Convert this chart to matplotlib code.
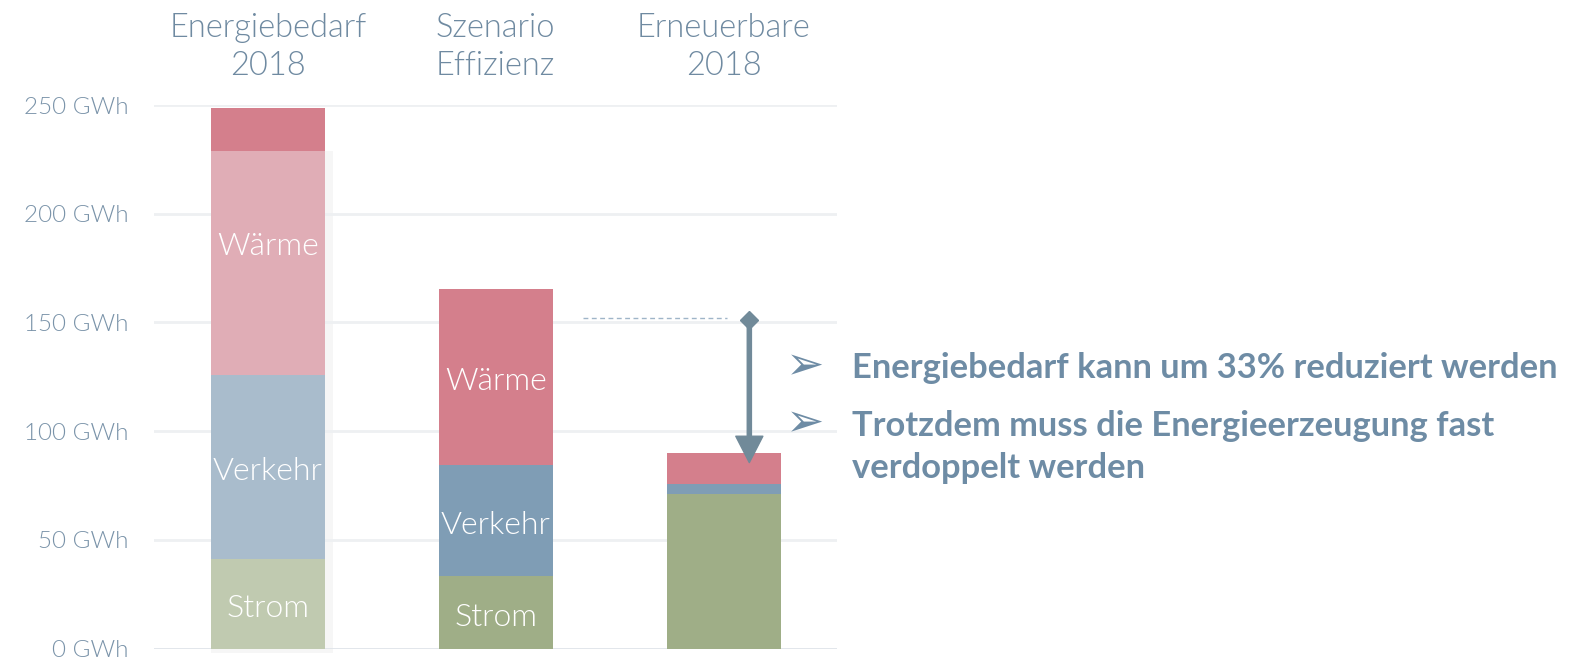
import matplotlib
matplotlib.use("Agg")
import matplotlib.pyplot as plt
from matplotlib.patches import Rectangle
import numpy as np

categories = ["Energiebedarf\n2018", "Szenario\nEffizienz", "Erneuerbare\n2018"]
strom = [41, 33.5, 71]
verkehr = [85, 51, 4.5]
waerme = [103, 81, 14.3]
waerme_top = [19.5, 0, 0]
segment_labels = ["Strom", "Verkehr", "Wärme"]
yticks = [0, 50, 100, 150, 200, 250]
ytick_labels = [f"{v} GWh" for v in yticks]
bullets = ["Energiebedarf kann um 33% reduziert werden",
           "Trotzdem muss die Energieerzeugung fast",
           "verdoppelt werden"]
ref_level = 152
arrow_from, arrow_to = 151, 85.5

light = {"Strom": "#c0cab0", "Verkehr": "#a9bccc", "Wärme": "#e0adb6"}
dark = {"Strom": "#9fae87", "Verkehr": "#7f9db5", "Wärme": "#d47f8c"}
tick_color = "#7a93a9"
title_color = "#6f8aa1"
text_color = "#6e8ca5"
arrow_color = "#718a99"

plt.rcParams['font.family'] = ['Lato', 'DejaVu Sans']

W, H = 1579, 660
fig = plt.figure(figsize=(W / 100, H / 100), dpi=100)
ax = fig.add_axes([154 / W, (H - 648.5) / H, 683.5 / W, 543.5 / H])
ax.set_xlim(-0.5, 2.5)
ax.set_ylim(0, 250)

x = np.arange(len(categories))
w = 0.5
label_shift = -2.3  # visual centring of in-bar labels

# faint shadow behind first bar
shadow_top = strom[0] + verkehr[0] + waerme[0]
ax.add_patch(Rectangle((x[0] - w / 2, -2), w + 0.035, shadow_top + 2, color="#f6f6f6",
                       zorder=0.5, lw=0, clip_on=False))

for i in range(len(categories)):
    cols = light if i == 0 else dark
    bottom = 0
    for name, vals in zip(segment_labels, [strom, verkehr, waerme]):
        h = vals[i]
        ax.bar(x[i], h, w, bottom=bottom, color=cols[name], zorder=2, linewidth=0)
        lab_h = h + (waerme_top[i] if name == "Wärme" else 0)
        if i < 2:
            ax.text(x[i], bottom + lab_h / 2 + label_shift, name, ha="center", va="center",
                    color="white", fontsize=23, fontweight=300, zorder=4)
        bottom += h
    if waerme_top[i] > 0:
        ax.bar(x[i], waerme_top[i], w, bottom=bottom, color=dark["Wärme"], zorder=2, linewidth=0)

# grid lines
for v in yticks:
    ax.axhline(v, color="#dfe4e9" if v == 0 else "#eef0f2", lw=2, zorder=1)

ax.set_yticks(yticks)
ax.set_yticklabels(ytick_labels, fontsize=17.5, color=tick_color, fontweight=300)
ax.tick_params(axis="y", length=0, pad=18)
ax.set_xticks([])
for s in ax.spines.values():
    s.set_visible(False)

# category labels on top
for i, c in enumerate(categories):
    l1, l2 = c.split("\n")
    ax.text(x[i], 285.4, l1, ha="center", va="center", fontsize=23.5,
            color=title_color, fontweight=300, clip_on=False)
    ax.text(x[i], 268.1, l2, ha="center", va="center", fontsize=23.5,
            color=title_color, fontweight=300, clip_on=False)

# dashed reference line and arrow
ax.plot([1.381, 2.014], [ref_level, ref_level], ls=(0, (3.5, 2.5)), color="#9fb5c8", lw=1, zorder=3)
ax.annotate("", xy=(2.113, arrow_to), xytext=(2.113, arrow_from),
            arrowprops=dict(facecolor=arrow_color, edgecolor=arrow_color, width=3,
                            headwidth=19.5, headlength=19, shrink=0), zorder=5)
ax.plot([2.113], [arrow_from], marker="D", color=arrow_color, ms=9, zorder=6)

# bullet texts
for yb in (366.5, 424):
    fig.text(805 / W, 1 - yb / H, "➢", fontsize=33, color=text_color, va="center", ha="center",
             family=["DejaVu Sans"])
for txt, yl in zip(bullets, (368, 426.5, 468.5)):
    fig.text(852 / W, 1 - yl / H, txt, fontsize=24.8, color=text_color, va="center",
             ha="left", fontweight="bold")

fig.savefig("out.png", dpi=100, facecolor="white")
